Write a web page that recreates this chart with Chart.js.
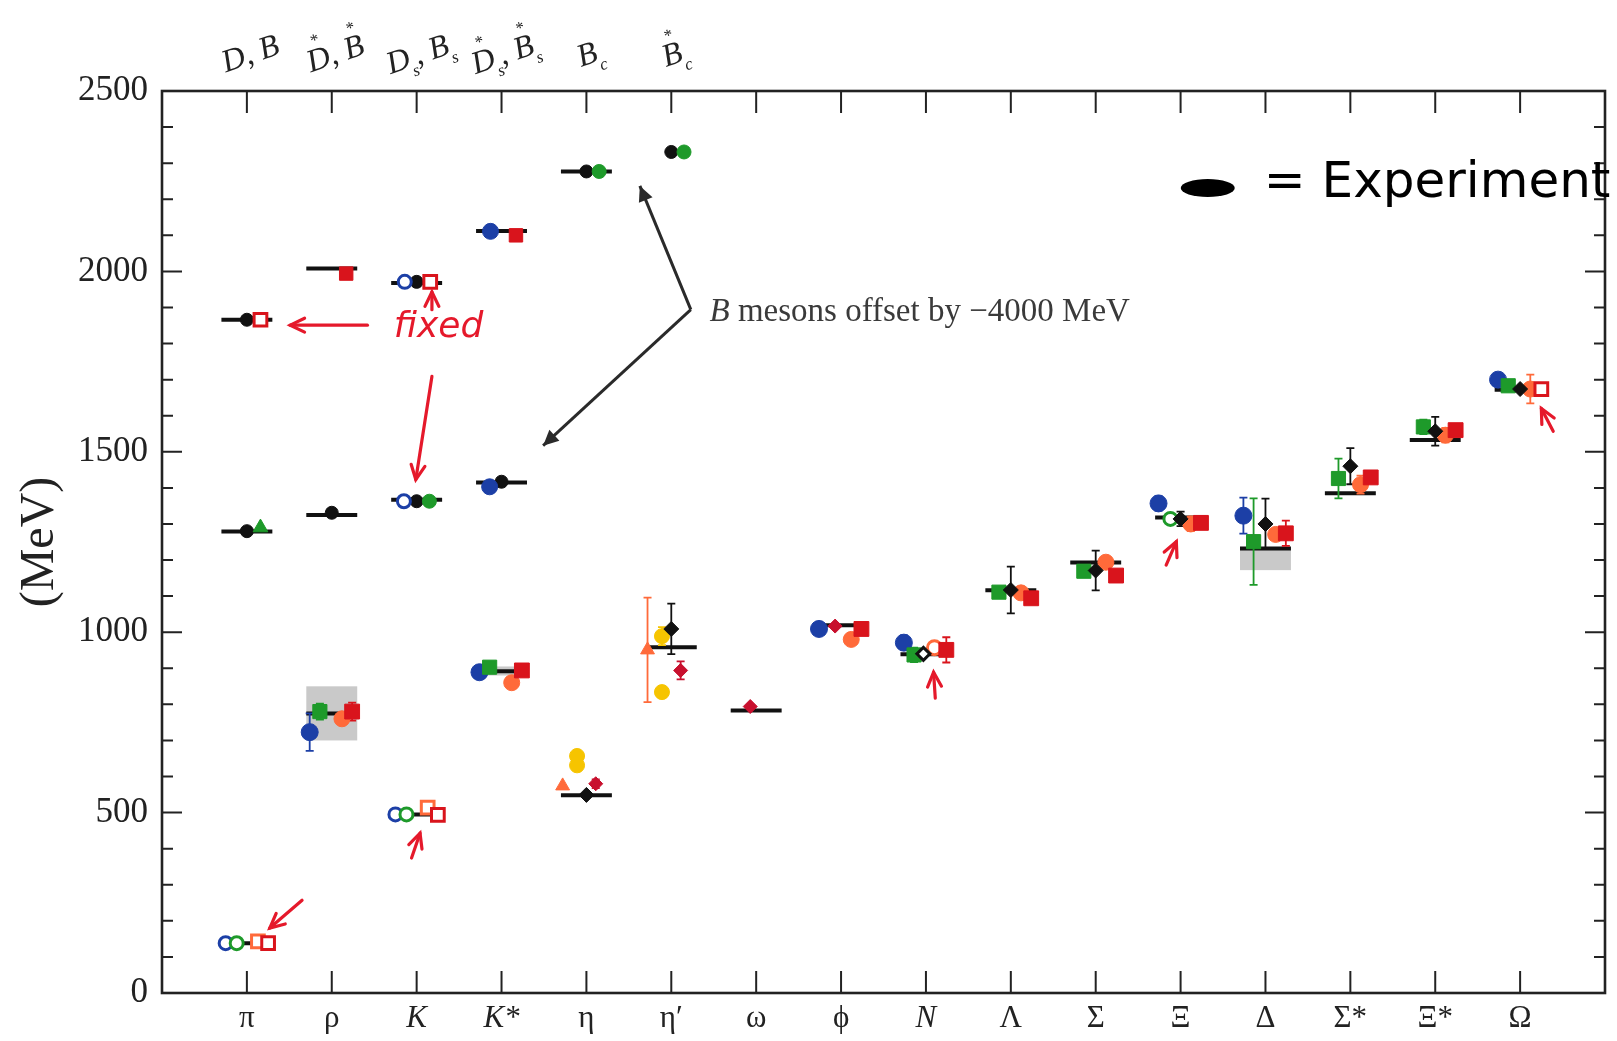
<!DOCTYPE html>
<html>
<head>
<meta charset="utf-8">
<script src="https://cdn.jsdelivr.net/npm/chart.js@4.4.1/dist/chart.umd.min.js"></script>
<style>
  html, body { margin: 0; padding: 0; background: #fff; }
  canvas { display: block; }
</style>
</head>
<body>
<canvas id="massChart" width="1617" height="1041"></canvas>
<script>
const _ = null;

// bottom axis: light hadrons (index = x position)
const hadrons = ['π', 'ρ', 'K', 'K*', 'η', 'η′', 'ω', 'ϕ', 'N', 'Λ', 'Σ', 'Ξ', 'Δ', 'Σ*', 'Ξ*', 'Ω'];
const yTicks = [0, 500, 1000, 1500, 2000, 2500];

// top axis: heavy mesons sharing the first six slots
const heavyLabels = [
    [{ t: 'D' }, { t: ', ' }, { t: 'B' }],
    [{ t: 'D', sup: '*' }, { t: ', ' }, { t: 'B', sup: '*' }],
    [{ t: 'D', sub: 's' }, { t: ', ' }, { t: 'B', sub: 's' }],
    [{ t: 'D', sup: '*', sub: 's' }, { t: ', ' }, { t: 'B', sup: '*', sub: 's' }],
    [{ t: 'B', sub: 'c' }],
    [{ t: 'B', sup: '*', sub: 'c' }]
];

// experiment (MeV)
const expLight  = [138, 775, 495, 892, 548, 958, 783, 1019, 939, 1116, 1193, 1318, 1232, 1385, 1533, 1672];
const expCharm  = [1866, 2008, 1968, 2112, _, _];
const expBottom = [1279, 1325, 1367, 1415, 2277, _];   // B mesons minus 4000

// experimental widths (grey boxes)
const widthCats = [1, 3, 12];
const widthLo   = [700, 880, 1172];
const widthHi   = [850, 905, 1235];

// lattice results, light hadrons
const blueFull       = [_, 723, _, 889, _, _, _, 1009, 971, _, _, 1357, 1323, _, _, 1700];
const blueFullErr    = [_, 52, _, 15, _, _, _, 18, 20, _, _, 20, 50, _, _, 0];
const blueOpen       = [138, _, 495, _, _, _, _, _, _, _, _, _, _, _, _, _];
const greenFull      = [_, 780, _, 903, _, _, _, _, 937, 1111, 1169, _, 1251, 1426, 1569, 1683];
const greenFullErr   = [_, 22, _, 0, _, _, _, _, 20, 10, 15, _, 120, 55, 20, 0];
const greenOpen      = [138, _, 495, _, _, _, _, _, _, _, _, 1314, _, _, _, _];
const blackFull      = [_, _, _, _, 549, 1009, _, _, _, 1117, 1171, 1314, 1300, 1460, 1557, 1674];
const blackFullErr   = [_, _, _, _, 0, 70, _, _, _, 65, 55, 20, 70, 50, 40, 0];
const blackOpen      = [_, _, _, _, _, _, _, _, 940, _, _, _, _, _, _, _];
const yellowHi       = [_, _, _, _, 657, 989, _, _, _, _, _, _, _, _, _, _];
const yellowHiErr    = [_, _, _, _, 0, 25, _, _, _, _, _, _, _, _, _, _];
const yellowLo       = [_, _, _, _, 631, 834, _, _, _, _, _, _, _, _, _, _];
const orangeTri      = [_, _, _, _, 574, 951, _, _, _, _, _, _, _, _, _, _];
const orangeTriErr   = [_, _, _, _, 0, 145, _, _, _, _, _, _, _, _, _, _];
const orangeFull     = [_, 760, _, 860, _, _, _, 980, _, 1109, 1194, 1300, 1271, 1409, 1546, 1674];
const orangeFullErr  = [_, 0, _, 0, _, _, _, 15, _, 10, 12, 20, 15, 25, 20, 40];
const orangeOpenSq   = [143, _, 514, _, _, _, _, _, _, _, _, _, _, _, _, _];
const orangeOpenCirc = [_, _, _, _, _, _, _, _, 957, _, _, _, _, _, _, _];
const redFull        = [_, 780, _, 894, _, _, _, 1009, 951, 1094, 1157, 1303, 1274, 1429, 1560, _];
const redFullErr     = [_, 25, _, 0, _, _, _, 0, 35, 0, 0, 0, 35, 0, 0, _];
const redOpen        = [138, _, 494, _, _, _, _, _, _, _, _, _, _, _, _, 1674];
const crimsonA       = [_, _, _, _, 580, 894, _, _, _, _, _, _, _, _, _, _];
const crimsonAErr    = [_, _, _, _, 12, 25, _, _, _, _, _, _, _, _, _, _];
const crimsonB       = [_, _, _, _, _, _, 794, 1017, _, _, _, _, _, _, _, _];

// lattice results, heavy mesons
const heavyBlackCharm  = [1866, _, 1971, _, _, _];
const heavyBlackBottom = [1280, 1331, 1363, 1417, 2277, 2331];
const heavyBlueCharm   = [_, _, _, 2111, _, _];
const heavyBlueBottom  = [_, _, _, 1403, _, _];
const heavyBlueOpen    = [_, _, 1971, _, _, _];
const heavyBlueOpenB   = [_, _, 1363, _, _, _];
const heavyGreen       = [_, _, 1363, _, 2277, 2331];
const heavyGreenTri    = [1290, _, _, _, _, _];
const heavyRed         = [_, 1994, _, 2100, _, _];
const heavyRedOpen     = [1866, _, 1971, _, _, _];

const C = {
    blue: '#1c3fa6', green: '#1e9a2a', black: '#111111', yellow: '#f6c400',
    orange: '#ff6a3a', red: '#d9141c', crimson: '#c8102e', grey: '#c9c9c9'
};

// marker series: data, errors, x offset inside the slot, look
const series = [
    { d: blueFull, e: blueFullErr, off: -0.26, c: C.blue, s: 'circle', r: 8.5 },
    { d: blueOpen, off: -0.25, c: C.blue, s: 'circle', r: 6.5, open: true },
    { d: greenFull, e: greenFullErr, off: -0.14, c: C.green, s: 'rect', r: 10 },
    { d: greenOpen, off: -0.12, c: C.green, s: 'circle', r: 6.5, open: true },
    { d: yellowHi, e: yellowHiErr, off: -0.11, c: C.yellow, s: 'circle', r: 7.5 },
    { d: yellowLo, off: -0.11, c: C.yellow, s: 'circle', r: 7.5 },
    { d: orangeTri, e: orangeTriErr, off: -0.28, c: C.orange, s: 'triangle', r: 8 },
    { d: orangeFull, e: orangeFullErr, off: 0.12, c: C.orange, s: 'circle', r: 8 },
    { d: orangeOpenSq, off: 0.13, c: C.orange, s: 'rect', r: 9, open: true },
    { d: orangeOpenCirc, off: 0.1, c: C.orange, s: 'circle', r: 7, open: true },
    { d: redFull, e: redFullErr, off: 0.24, c: C.red, s: 'rect', r: 10.5 },
    { d: redOpen, off: 0.25, c: C.red, s: 'rect', r: 9, open: true },
    { d: crimsonA, e: crimsonAErr, off: 0.11, c: C.crimson, s: 'rectRot', r: 7 },
    { d: crimsonB, off: -0.07, c: C.crimson, s: 'rectRot', r: 7 },
    { d: blackFull, e: blackFullErr, off: 0, c: C.black, s: 'rectRot', r: 7.5 },
    { d: blackOpen, off: -0.03, c: C.black, s: 'rectRot', r: 6.5, open: true },
    // heavy
    { d: heavyBlackCharm, off: 0, c: C.black, s: 'circle', r: 6.5 },
    { d: heavyBlackBottom, off: 0, c: C.black, s: 'circle', r: 6.5 },
    { d: heavyBlueCharm, off: -0.13, c: C.blue, s: 'circle', r: 8 },
    { d: heavyBlueBottom, off: -0.14, c: C.blue, s: 'circle', r: 8 },
    { d: heavyBlueOpen, off: -0.14, c: C.blue, s: 'circle', r: 6.5, open: true },
    { d: heavyBlueOpenB, off: -0.15, c: C.blue, s: 'circle', r: 6.5, open: true },
    { d: heavyGreen, off: 0.15, c: C.green, s: 'circle', r: 7 },
    { d: heavyGreenTri, off: 0.16, c: C.green, s: 'triangle', r: 8.5 },
    { d: heavyRed, off: 0.17, c: C.red, s: 'rect', r: 9.5 },
    { d: heavyRedOpen, off: 0.16, c: C.red, s: 'rect', r: 9, open: true }
];

const datasets = series.map(sr => ({
    data: sr.d.map((v, i) => v == null ? null : { x: i + sr.off, y: v }).filter(p => p),
    pointStyle: sr.s,
    pointRadius: sr.r,
    pointHoverRadius: sr.r,
    backgroundColor: sr.open ? '#ffffff' : sr.c,
    borderColor: sr.c,
    borderWidth: sr.open ? 3 : 1,
    showLine: false
})).reverse();

const serif = '"Liberation Serif", "DejaVu Serif", serif';
const hand = '"DejaVu Sans", "Noto Sans", sans-serif';

function arrow(ctx, x1, y1, x2, y2, head, filled) {
    ctx.beginPath();
    ctx.moveTo(x1, y1);
    ctx.lineTo(x2, y2);
    ctx.stroke();
    const a = Math.atan2(y2 - y1, x2 - x1);
    ctx.beginPath();
    ctx.moveTo(x2 - head * Math.cos(a - 0.45), y2 - head * Math.sin(a - 0.45));
    ctx.lineTo(x2, y2);
    ctx.lineTo(x2 - head * Math.cos(a + 0.45), y2 - head * Math.sin(a + 0.45));
    if (filled) { ctx.closePath(); ctx.fill(); } else ctx.stroke();
}

// grey boxes, experiment bars and error bars under the markers
const underlay = {
    id: 'underlay',
    beforeDatasetsDraw(chart) {
        const { ctx, scales: { x, y } } = chart;
        ctx.save();
        ctx.fillStyle = C.grey;
        widthCats.forEach((cat, k) => {
            const x1 = x.getPixelForValue(cat - 0.3), x2 = x.getPixelForValue(cat + 0.3);
            const y1 = y.getPixelForValue(widthHi[k]), y2 = y.getPixelForValue(widthLo[k]);
            ctx.fillRect(x1, y1, x2 - x1, y2 - y1);
        });
        ctx.strokeStyle = '#111';
        ctx.lineWidth = 4;
        [expLight, expCharm, expBottom].forEach(arr => arr.forEach((v, i) => {
            if (v == null) return;
            ctx.beginPath();
            ctx.moveTo(x.getPixelForValue(i - 0.3), y.getPixelForValue(v));
            ctx.lineTo(x.getPixelForValue(i + 0.3), y.getPixelForValue(v));
            ctx.stroke();
        }));
        ctx.lineWidth = 1.8;
        series.forEach(sr => {
            if (!sr.e) return;
            ctx.strokeStyle = sr.c;
            sr.d.forEach((v, i) => {
                const err = sr.e[i];
                if (v == null || !err) return;
                const xp = x.getPixelForValue(i + sr.off);
                const yt = y.getPixelForValue(v + err), yb = y.getPixelForValue(v - err);
                ctx.beginPath();
                ctx.moveTo(xp, yt); ctx.lineTo(xp, yb);
                ctx.moveTo(xp - 4, yt); ctx.lineTo(xp + 4, yt);
                ctx.moveTo(xp - 4, yb); ctx.lineTo(xp + 4, yb);
                ctx.stroke();
            });
        });
        ctx.restore();
    }
};

// frame, inward ticks, top labels and the notes
const overlay = {
    id: 'overlay',
    afterDraw(chart) {
        const { ctx, chartArea: a, scales: { x, y } } = chart;
        ctx.save();
        ctx.strokeStyle = '#222';
        ctx.lineWidth = 2;
        for (let v = 0; v <= 2500; v += 100) {
            const yp = y.getPixelForValue(v);
            const len = v % 500 === 0 ? 20 : 11;
            ctx.beginPath();
            ctx.moveTo(a.left, yp); ctx.lineTo(a.left + len, yp);
            ctx.moveTo(a.right, yp); ctx.lineTo(a.right - len, yp);
            ctx.stroke();
        }
        hadrons.forEach((h, i) => {
            const xp = x.getPixelForValue(i);
            ctx.beginPath();
            ctx.moveTo(xp, a.bottom); ctx.lineTo(xp, a.bottom - 22);
            ctx.moveTo(xp, a.top); ctx.lineTo(xp, a.top + 22);
            ctx.stroke();
        });
        ctx.lineWidth = 2.6;
        ctx.strokeRect(a.left, a.top, a.right - a.left, a.bottom - a.top);

        // heavy meson labels along the top
        ctx.fillStyle = '#222';
        const big = 'italic 32px ' + serif, small = 'italic 17px ' + serif;
        heavyLabels.forEach((lab, i) => {
            let w = 0;
            lab.forEach(p => {
                ctx.font = big; w += ctx.measureText(p.t).width;
                if (p.sub) { ctx.font = small; w += ctx.measureText(p.sub).width * 0.8; }
            });
            ctx.save();
            ctx.translate(x.getPixelForValue(i) + 4, a.top - 36);
            ctx.rotate(-0.33);
            ctx.textBaseline = 'middle';
            let cx = -w / 2;
            lab.forEach(p => {
                ctx.font = big;
                const tw = ctx.measureText(p.t).width;
                ctx.fillText(p.t, cx, 0);
                ctx.font = small;
                if (p.sup) ctx.fillText(p.sup, cx + tw * 0.4, -20);
                if (p.sub) ctx.fillText(p.sub, cx + tw - 1, 14);
                cx += tw + (p.sub ? ctx.measureText(p.sub).width * 0.8 : 0);
            });
            ctx.restore();
        });

        // offset note with black arrows
        ctx.fillStyle = '#3a3a3a';
        ctx.textBaseline = 'middle';
        const nx = x.getPixelForValue(5.45), ny = y.getPixelForValue(1886);
        ctx.font = 'italic 33px ' + serif;
        ctx.fillText('B', nx, ny);
        const bw = ctx.measureText('B').width;
        ctx.font = '33px ' + serif;
        ctx.fillText(' mesons offset by \u22124000 MeV', nx + bw, ny);
        ctx.strokeStyle = '#2a2a2a';
        ctx.fillStyle = '#2a2a2a';
        ctx.lineWidth = 3;
        const vx = x.getPixelForValue(5.23), vy = y.getPixelForValue(1894);
        arrow(ctx, vx, vy, x.getPixelForValue(4.63), y.getPixelForValue(2237), 17, true);
        arrow(ctx, vx, vy, x.getPixelForValue(3.49), y.getPixelForValue(1517), 17, true);

        // hand-written red marks
        ctx.strokeStyle = '#e5192b';
        ctx.fillStyle = '#e5192b';
        ctx.lineWidth = 3.2;
        ctx.lineCap = 'round';
        ctx.font = 'oblique 36px ' + hand;
        ctx.fillText('fixed', x.getPixelForValue(1.73), y.getPixelForValue(1843));
        const redArrows = [
            [1.42, 1851, 0.51, 1851], [2.18, 1894, 2.18, 1943], [2.18, 1709, 1.99, 1423],
            [0.65, 257, 0.27, 180], [1.94, 374, 2.04, 443], [8.11, 817, 8.09, 889],
            [10.83, 1186, 10.95, 1251], [15.39, 1557, 15.25, 1620]
        ];
        redArrows.forEach(r => arrow(ctx, x.getPixelForValue(r[0]), y.getPixelForValue(r[1]),
            x.getPixelForValue(r[2]), y.getPixelForValue(r[3]), 16, false));

        // hand-written legend
        ctx.fillStyle = '#000';
        ctx.beginPath();
        ctx.ellipse(x.getPixelForValue(11.32), y.getPixelForValue(2231), 27, 9, 0, 0, Math.PI * 2);
        ctx.fill();
        ctx.font = '50px ' + hand;
        const ex = x.getPixelForValue(11.98), ey = y.getPixelForValue(2243);
        ctx.fillText('= Experiment', ex, ey);
        ctx.restore();
    }
};

new Chart(document.getElementById('massChart').getContext('2d'), {
    type: 'scatter',
    data: { datasets },
    options: {
        responsive: false,
        animation: false,
        devicePixelRatio: 1,
        layout: { padding: { left: 0, right: 6, top: 91, bottom: 0 } },
        plugins: { legend: { display: false }, tooltip: { enabled: false } },
        scales: {
            x: {
                type: 'linear',
                min: -1,
                max: 16,
                grid: { display: false, drawTicks: false },
                border: { display: false },
                afterBuildTicks: s => { s.ticks = hadrons.map((h, i) => ({ value: i })); },
                afterFit: s => { s.height = 48; },
                ticks: {
                    autoSkip: false,
                    maxRotation: 0,
                    padding: 7,
                    color: '#222',
                    callback: v => hadrons[v] ?? '',
                    font: c => ({
                        family: serif,
                        size: 31,
                        style: ['K', 'K*', 'N'].includes(hadrons[c.index]) ? 'italic' : 'normal'
                    })
                }
            },
            y: {
                min: 0,
                max: 2500,
                grid: { display: false, drawTicks: false },
                border: { display: false },
                afterBuildTicks: s => { s.ticks = yTicks.map(v => ({ value: v })); },
                afterFit: s => { s.width = 162; },
                ticks: {
                    padding: 14,
                    color: '#222',
                    font: { family: serif, size: 35 },
                    callback: v => String(v)
                },
                title: {
                    display: true,
                    text: '(MeV)',
                    color: '#222',
                    font: { family: serif, size: 48 },
                    padding: { top: 12, bottom: 0 }
                }
            }
        }
    },
    plugins: [underlay, overlay]
});
</script>
</body>
</html>
